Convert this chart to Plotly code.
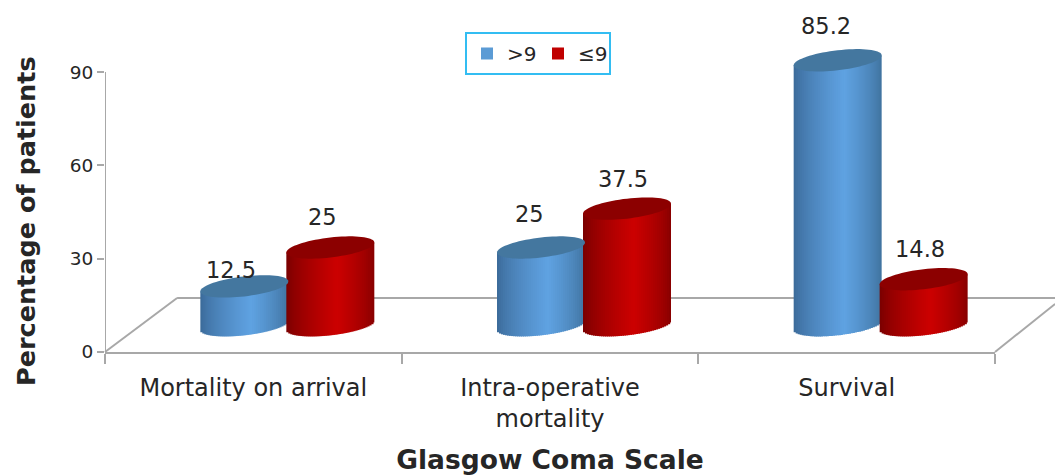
import math
import plotly.graph_objects as go

categories = ["Mortality on arrival", "Intra-operative<br>mortality", "Survival"]
series_names = [">9", "≤9"]
values_gt9 = [12.5, 25, 85.2]
values_le9 = [25, 37.5, 14.8]
value_labels_gt9 = ["12.5", "25", "85.2"]
value_labels_le9 = ["25", "37.5", "14.8"]
y_ticks = [0, 30, 60, 90]

# geometry of the pseudo-3D cylinders, in axis units
PX_PER_UNIT = 3.11
PX_PER_CAT = 296.7
FLOOR = 8.6
HALF_W = 44 / PX_PER_CAT
CAP_B = 10 / PX_PER_UNIT
CAP_TILT = 5 / PX_PER_UNIT
N_STRIPS = 44
PEAK = 0.15

AXIS = "#a8a8a8"
TEXT = "#262626"
FONT = "DejaVu Sans"
styles = [
    dict(center=-9 / PX_PER_CAT, edgeL=(58, 104, 150), mid=(95, 162, 226), edgeR=(62, 112, 155), cap="#44779f", legend="#5b9bd5"),
    dict(center=77 / PX_PER_CAT, edgeL=(118, 0, 0), mid=(204, 0, 0), edgeR=(132, 0, 0), cap="#8c0000", legend="#c00000"),
]


def shade(u, s):
    if u < PEAK:
        t = (u + 1) / (PEAK + 1)
        a, b = s["edgeL"], s["mid"]
    else:
        t = (1 - u) / (1 - PEAK)
        a, b = s["edgeR"], s["mid"]
    t = t ** 0.7
    return "rgb(%d,%d,%d)" % tuple(round(a[i] + (b[i] - a[i]) * t) for i in range(3))


def cap_path(cx, level):
    pts = []
    for k in range(73):
        a = 2 * math.pi * k / 72
        x = cx + HALF_W * math.cos(a)
        y = level + CAP_TILT * math.cos(a) + CAP_B * math.sin(a)
        pts.append(f"{x:.4f},{y:.3f}")
    return "M" + " L".join(pts) + " Z"


fig = go.Figure()
shapes = []

for values, s, name in zip([values_gt9, values_le9], styles, series_names):
    xs, bases, heights, offsets, widths, colors = [], [], [], [], [], []
    for cat, v in zip(categories, values):
        for j in range(N_STRIPS):
            u0 = -1 + 2 * j / N_STRIPS
            u1 = -1 + 2 * (j + 1) / N_STRIPS
            u = (u0 + u1) / 2
            curve = CAP_B * math.sqrt(max(0, 1 - u * u))
            xs.append(cat)
            bases.append(FLOOR + CAP_TILT * u - curve)
            heights.append(v + curve)
            offsets.append(s["center"] + u0 * HALF_W)
            widths.append((u1 - u0) * HALF_W + (0.004 if j < N_STRIPS - 1 else 0))
            colors.append(shade(u, s))
    fig.add_trace(go.Bar(x=xs, y=heights, base=bases, offset=offsets, width=widths,
                         marker=dict(color=colors, line=dict(width=0)),
                         cliponaxis=False, showlegend=False, hoverinfo="skip"))
    for i, v in enumerate(values):
        shapes.append(dict(type="path", xref="x", yref="y", layer="above", line=dict(width=0),
                           fillcolor=s["cap"], path=cap_path(i + s["center"], FLOOR + v)))
    fig.add_trace(go.Bar(x=[None], y=[None], name=name, marker=dict(color=s["legend"], line=dict(width=0))))

# floor of the 3-D box and the y axis line
line = dict(color=AXIS, width=2)
shapes += [
    dict(type="line", xref="x", yref="y", x0=-0.5, x1=-0.5, y0=0, y1=90, line=line, layer="below"),
    dict(type="line", xref="paper", yref="paper", x0=0, y0=0, x1=0.081, y1=0.154, line=line, layer="below"),
    dict(type="line", xref="paper", yref="paper", x0=0.081, y0=0.154, x1=1.0675, y1=0.154, line=line, layer="below"),
    dict(type="line", xref="paper", yref="paper", x0=1, y0=0, x1=1.0675, y1=0.137, line=line, layer="below"),
]

# value labels; shifts in pixels from the cap centre
label_shift = {(0, 0): (-13, 16), (0, 1): (-12, 34), (0, 2): (-12, 34),
               (1, 0): (-8, 31), (1, 1): (-4, 30), (1, 2): (-4, 30)}
annotations = []
for si, (values, labels, s) in enumerate(zip([values_gt9, values_le9],
                                             [value_labels_gt9, value_labels_le9], styles)):
    for i, (v, lab) in enumerate(zip(values, labels)):
        dx, dy = label_shift[(si, i)]
        annotations.append(dict(x=i + s["center"], y=FLOOR + v, xref="x", yref="y", text=lab,
                                showarrow=False, xshift=dx, yshift=dy,
                                font=dict(family=FONT, size=22.5, color=TEXT)))
annotations.append(dict(xref="paper", yref="paper", x=-79 / 890, y=131 / 351, text="<b>Percentage of patients</b>",
                        textangle=-90, showarrow=False, xanchor="center", yanchor="middle",
                        font=dict(family=FONT, size=25.5, color=TEXT)))

fig.update_layout(
    width=1055, height=475, autosize=False,
    margin=dict(l=105, r=60, t=1, b=123, pad=0),
    paper_bgcolor="white", plot_bgcolor="white",
    barmode="overlay", shapes=shapes, annotations=annotations,
    font=dict(family=FONT, color=TEXT),
    legend=dict(orientation="h", x=0.4045, xanchor="left", y=0.9117, yanchor="top",
                yref="paper", bordercolor="#33bdf2", borderwidth=2, bgcolor="white",
                font=dict(family=FONT, size=20, color=TEXT), itemwidth=30,
                entrywidth=26, entrywidthmode="pixels", traceorder="normal"),
    xaxis=dict(type="category", categoryorder="array", categoryarray=categories,
               range=[-0.5, 2.5], tickson="boundaries", ticks="outside", ticklen=10,
               tickwidth=2, tickcolor=AXIS, showline=True, linecolor=AXIS, linewidth=2,
               showgrid=False, zeroline=False, tickangle=0, ticklabelstandoff=13,
               tickfont=dict(family=FONT, size=24, color=TEXT),
               title=dict(text="<b>Glasgow Coma Scale</b>", standoff=22,
                          font=dict(family=FONT, size=26.5, color=TEXT))),
    yaxis=dict(range=[0, 351 / PX_PER_UNIT], tickmode="array", tickvals=y_ticks,
               ticks="outside", ticklen=7, tickwidth=2, tickcolor=AXIS, showline=False,
               showgrid=False, zeroline=False,
               tickfont=dict(family=FONT, size=18.5, color=TEXT)),
)
fig.write_html("out.html", config=dict(displayModeBar=False),
               post_script="document.body.style.margin='0';")
